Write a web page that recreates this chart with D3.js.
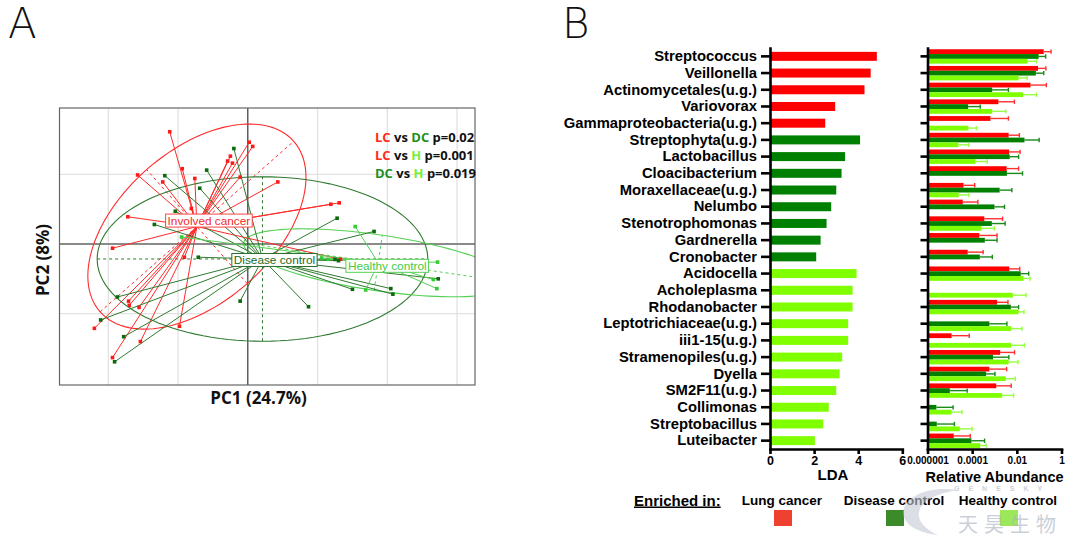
<!DOCTYPE html>
<html>
<head>
<meta charset="utf-8">
<script src="https://cdn.jsdelivr.net/npm/d3@7"></script>
<style>
  body { margin: 0; background: #fff; }
  svg { display: block; }
</style>
</head>
<body>
<svg id="svgBox" width="1080" height="540"></svg>
<script>
// panel A: PCA scores per group
const LC_POINTS = [
  [-1.12, 1.61], [0.02, 1.46], [0.07, 1.40], [-0.25, 1.26], [-0.29, 1.19],
  [-0.22, 1.16], [-1.58, 0.99], [-0.94, 1.08], [-1.22, 0.89], [-0.76, 0.94],
  [-0.11, 0.96], [0.43, 0.89], [-0.81, 0.51], [1.19, 0.57], [1.31, 0.59],
  [-1.72, 0.39], [-1.94, -0.06], [-0.91, -0.19], [-1.71, -0.82], [-1.70, -0.88],
  [-1.56, -0.91], [-2.20, -1.21], [-0.98, -1.18], [-1.54, -1.40], [-1.94, -1.63],
  [1.33, -0.22],
]
const DC_POINTS = [
  [-0.20, 1.37], [-0.59, 1.06], [-1.19, 0.98], [-0.69, 0.80], [-1.04, 0.47],
  [-1.34, 0.28], [-0.71, -0.19], [1.28, 0.37], [1.81, 0.18], [1.30, -0.24],
  [2.73, -0.50], [1.50, -0.65], [2.05, -0.64], [2.08, -0.72], [-0.11, -0.82],
  [0.87, -0.90], [-1.87, -0.76], [-2.11, -1.09], [-1.78, -1.33], [-1.91, -1.69],
  [1.25, -0.22],
]
const HC_POINTS = [
  [1.54, 0.25], [2.72, -0.26], [2.66, -0.51], [2.71, -0.64], [1.69, -0.66],
  [-0.95, 0.10], [1.06, -0.20], [1.15, -0.22],
]
const GROUP_NAMES = ["Involved cancer", "Disease control", "Healthy control"]
const GROUP_CENTROIDS = [[-0.73, 0.25], [0.21, -0.215], [1.87, -0.27]]
// [semi-major, semi-minor, angle in degrees]
const GROUP_ELLIPSES = [[1.85, 1.09, 41.4], [2.37, 1.18, 0], [1.95, 0.40, -8.4]]
const X_GRID = [-2, -1, 0, 1, 2, 3]
const Y_GRID = [-1, 0, 1]
const PAIR_A = ["LC", "LC", "DC"]
const PAIR_B = ["DC", "H", "H"]
const PAIR_P = ["0.02", "0.001", "0.019"]

// panel B: LEfSe
const TAXA = [
  "Streptococcus", "Veillonella", "Actinomycetales(u.g.)", "Variovorax",
  "Gammaproteobacteria(u.g.)", "Streptophyta(u.g.)", "Lactobacillus",
  "Cloacibacterium", "Moraxellaceae(u.g.)", "Nelumbo", "Stenotrophomonas",
  "Gardnerella", "Cronobacter", "Acidocella", "Acholeplasma", "Rhodanobacter",
  "Leptotrichiaceae(u.g.)", "iii1-15(u.g.)", "Stramenopiles(u.g.)", "Dyella",
  "SM2F11(u.g.)", "Collimonas", "Streptobacillus", "Luteibacter",
]
const LDA = [
  4.80, 4.52, 4.24, 2.91, 2.46, 4.04, 3.36, 3.20, 2.96, 2.73, 2.52, 2.25,
  2.05, 3.88, 3.70, 3.70, 3.50, 3.50, 3.23, 3.11, 2.96, 2.62, 2.37, 1.99,
]
const ENRICHED = [
  "LC", "LC", "LC", "LC", "LC",
  "DC", "DC", "DC", "DC", "DC", "DC", "DC", "DC",
  "HC", "HC", "HC", "HC", "HC", "HC", "HC", "HC", "HC", "HC", "HC",
]
const LC_MEAN = [
  0.16, 0.089, 0.041, 0.0015, 0.00066, 0.0043, 0.0045, 0.0035, 4.1e-5, 3.8e-5,
  0.00035, 0.00021, 6.3e-5, 0.0046, null, 0.0013, null, 1.2e-5, 0.0018, 0.00059,
  0.0012, null, null, 1.5e-5,
]
const LC_UPPER = [
  0.34, 0.2, 0.21, 0.0078, 0.0042, 0.013, 0.014, 0.012, 0.00013, 0.00018,
  0.0023, 0.0013, 0.00031, 0.0135, null, 0.004, null, 7.4e-5, 0.0079, 0.0035,
  0.0056, null, null, 8.2e-5,
]
const DC_MEAN = [
  0.095, 0.071, 0.00079, 6.6e-5, null, 0.022, 0.0048, 0.0036, 0.0017, 0.001,
  0.00076, 0.00037, 0.00022, 0.015, null, 0.0054, 0.00059, null, 0.00086, 0.00042,
  1.0e-5, 2.5e-6, 2.6e-6, 9.3e-5,
]
const DC_UPPER = [
  0.195, 0.16, 0.0042, 0.00023, null, 0.1, 0.012, 0.018, 0.006, 0.0028,
  0.003, 0.0013, 0.0008, 0.034, null, 0.012, 0.0036, null, 0.0044, 0.00105,
  6e-5, 1.4e-5, 1.6e-5, 0.00036,
]
const HC_MEAN = [
  0.0295, 0.012, 0.019, 0.00079, 6.8e-5, 2.4e-5, 0.00014, null, 2.5e-5, null,
  0.00026, null, null, 0.02, 0.0066, 0.012, 0.0056, 0.0056, 0.0043, 0.0032,
  0.0022, 1.2e-5, 2.8e-5, 0.00023,
]
const HC_UPPER = [
  0.076, 0.029, 0.076, 0.0032, 0.000155, 7.1e-5, 0.00047, null, 7.1e-5, null,
  0.00098, null, null, 0.039, 0.026, 0.021, 0.017, 0.022, 0.0114, 0.0085,
  0.0071, 3.5e-5, 0.0001, 0.00042,
]
const LDA_TICKS = [0, 2, 4, 6]
const RA_TICKS = [1e-6, 1e-4, 1e-2, 1]
const RA_TICK_LABELS = ["0.000001", "0.0001", "0.01", "1"]
const LEGEND_LABELS = ["Lung cancer", "Disease control", "Healthy control"]

const svg = d3.select("#svgBox")
const BOLD = "'Liberation Sans', Arial, sans-serif"
const OPEN = "'Open Sans', 'Liberation Sans', sans-serif"

// group styles: index 0 = LC, 1 = DC, 2 = HC
const POINT_COLORS = ["#ff1a1a", "#0b6a0b", "#33cc33"]
const LINE_COLORS = ["#ff2a2a", "#2f7a2f", "#55d055"]
const LABEL_NUDGE = [[12, -6], [12, 1], [9, 3]]
const TEXT_COLORS = { LC: "#ff2a1a", DC: "#1f8f1f", H: "#77ee33" }

// ---------- panel A ----------
const x = d3.scaleLinear().domain([-2.7, 3.257]).range([59.5, 475])
const y = d3.scaleLinear().domain([-2.023, 1.951]).range([385, 108])

svg.append("clipPath")
  .attr("id", "pcaClip")
  .append("rect")
  .attr("x", x.range()[0])
  .attr("y", y.range()[1])
  .attr("width", x.range()[1] - x.range()[0])
  .attr("height", y.range()[0] - y.range()[1])

const pca = svg.append("g").attr("clip-path", "url(#pcaClip)")

// grid
X_GRID.forEach((g) => {
  pca.append("line")
    .attr("x1", x(g)).attr("x2", x(g))
    .attr("y1", y.range()[0]).attr("y2", y.range()[1])
    .attr("stroke", "#e2e2e2").attr("stroke-width", 1.3)
})
Y_GRID.forEach((g) => {
  pca.append("line")
    .attr("y1", y(g)).attr("y2", y(g))
    .attr("x1", x.range()[0]).attr("x2", x.range()[1])
    .attr("stroke", "#e2e2e2").attr("stroke-width", 1.3)
})
pca.append("line")
  .attr("y1", y(0)).attr("y2", y(0))
  .attr("x1", x.range()[0]).attr("x2", x.range()[1])
  .attr("stroke", "#8a8a8a").attr("stroke-width", 2)
pca.append("line")
  .attr("x1", x(0)).attr("x2", x(0))
  .attr("y1", y.range()[0]).attr("y2", y.range()[1])
  .attr("stroke", "#222").attr("stroke-width", 1)

const ellipsePath = ([cx, cy], [a, b, deg]) => {
  const t = (deg * Math.PI) / 180
  const pts = d3.range(0, 361, 3).map((k) => {
    const s = (k * Math.PI) / 180
    const ex = a * Math.cos(s)
    const ey = b * Math.sin(s)
    return [
      x(cx + ex * Math.cos(t) - ey * Math.sin(t)),
      y(cy + ex * Math.sin(t) + ey * Math.cos(t)),
    ]
  })
  return d3.line()(pts)
}

const ellipseAxes = ([cx, cy], [a, b, deg]) => {
  const t = (deg * Math.PI) / 180
  const c = Math.cos(t)
  const s = Math.sin(t)
  return [
    [[cx - a * c, cy - a * s], [cx + a * c, cy + a * s]],
    [[cx + b * s, cy - b * c], [cx - b * s, cy + b * c]],
  ]
}

const groups = [LC_POINTS, DC_POINTS, HC_POINTS]

// ellipses and their dashed axes
groups.forEach((_, i) => {
  pca.append("path")
    .attr("d", ellipsePath(GROUP_CENTROIDS[i], GROUP_ELLIPSES[i]))
    .attr("fill", "none")
    .attr("stroke", LINE_COLORS[i])
    .attr("stroke-width", 1.1)
  ellipseAxes(GROUP_CENTROIDS[i], GROUP_ELLIPSES[i]).forEach((seg) => {
    pca.append("path")
      .attr("d", d3.line()(seg.map(([u, v]) => [x(u), y(v)])))
      .attr("stroke", LINE_COLORS[i])
      .attr("stroke-width", 1)
      .attr("stroke-dasharray", "3,3")
  })
})

// star lines
groups.forEach((pts, i) => {
  const [cx, cy] = GROUP_CENTROIDS[i]
  pts.forEach(([px, py]) => {
    pca.append("line")
      .attr("x1", x(cx)).attr("y1", y(cy))
      .attr("x2", x(px)).attr("y2", y(py))
      .attr("stroke", LINE_COLORS[i])
      .attr("stroke-width", 1)
  })
})

// points
groups.forEach((pts, i) => {
  pca.selectAll(null)
    .data(pts)
    .enter()
    .append("rect")
    .attr("x", (d) => x(d[0]) - 1.8)
    .attr("y", (d) => y(d[1]) - 1.8)
    .attr("width", 3.6)
    .attr("height", 3.6)
    .attr("fill", POINT_COLORS[i])
})

// group labels
GROUP_NAMES.forEach((name, i) => {
  const [cx, cy] = GROUP_CENTROIDS[i]
  const lx = x(cx) + LABEL_NUDGE[i][0]
  const ly = y(cy) + LABEL_NUDGE[i][1]
  const g = pca.append("g")
  const rect = g.append("rect")
  const txt = g.append("text")
    .attr("x", lx)
    .attr("y", ly + 4.3)
    .attr("text-anchor", "middle")
    .attr("font-family", BOLD)
    .attr("font-size", "11.8px")
    .attr("fill", i === 0 ? "#f42a2a" : i === 1 ? "#1c6b1c" : "#44cc44")
    .text(name)
  const w = txt.node().getComputedTextLength() + 4
  rect.attr("x", lx - w / 2).attr("y", ly - 6.5)
    .attr("width", w).attr("height", 13)
    .attr("fill", "#fff")
    .attr("stroke", i === 0 ? "#f44" : i === 1 ? "#2a6e2a" : "#55d055")
    .attr("stroke-width", 1)
})

// frame
svg.append("rect")
  .attr("x", x.range()[0]).attr("y", y.range()[1])
  .attr("width", x.range()[1] - x.range()[0])
  .attr("height", y.range()[0] - y.range()[1])
  .attr("fill", "none")
  .attr("stroke", "#666")
  .attr("stroke-width", 1.2)

// pairwise test text
PAIR_P.forEach((p, i) => {
  const t = svg.append("text")
    .attr("x", 375)
    .attr("y", 141.5 + i * 18)
    .attr("font-family", OPEN)
    .attr("font-weight", "bold")
    .attr("font-size", "13px")
    .attr("fill", "#111")
  t.append("tspan").attr("fill", TEXT_COLORS[PAIR_A[i]]).text(PAIR_A[i])
  t.append("tspan").text(" vs ")
  t.append("tspan").attr("fill", TEXT_COLORS[PAIR_B[i]]).text(PAIR_B[i])
  t.append("tspan").text(" p=" + p)
})

// axis titles
svg.append("text")
  .attr("x", 258.5).attr("y", 404)
  .attr("text-anchor", "middle")
  .attr("font-family", OPEN).attr("font-weight", "bold")
  .attr("font-size", "17px").attr("fill", "#111")
  .text("PC1 (24.7%)")
svg.append("text")
  .attr("transform", "translate(49, 260) rotate(-90)")
  .attr("text-anchor", "middle")
  .attr("font-family", OPEN).attr("font-weight", "bold")
  .attr("font-size", "17px").attr("fill", "#111")
  .text("PC2 (8%)")

// panel letters
const panelLetter = (letter, px) => {
  svg.append("text")
    .attr("x", px).attr("y", 38)
    .attr("font-family", "'DejaVu Sans', 'Liberation Sans', sans-serif")
    .attr("font-weight", 200)
    .attr("font-size", "42px")
    .attr("fill", "#111")
    .text(letter)
}
panelLetter("A", 8)
panelLetter("B", 562)

// ---------- panel B ----------
const BAR_COLORS = { LC: "#ff0000", DC: "#008000", HC: "#80ff00" }
const ERR_COLORS = { LC: "#ff3030", DC: "#1a8a1a", HC: "#96ff40" }

const rows = d3.scaleBand().domain(TAXA).range([48, 449])
const lda = d3.scaleLinear().domain([0, 6]).range([770, 902.3])
const ra = d3.scaleLog().domain([1e-6, 1]).range([927.5, 1061.5])
const sub = d3.scaleBand().domain(["LC", "DC", "HC"]).range([-7.1, 7.3])
const rowMid = (t) => rows(t) + rows.bandwidth() / 2

// LDA bars
svg.selectAll(null)
  .data(TAXA)
  .enter()
  .append("rect")
  .attr("x", lda(0) + 1)
  .attr("y", (d) => rowMid(d) - 4.5)
  .attr("width", (d, i) => lda(LDA[i]) - lda(0))
  .attr("height", 9)
  .attr("fill", (d, i) => BAR_COLORS[ENRICHED[i]])

// relative abundance bars with error bars
const RA_SERIES = [
  ["LC", LC_MEAN, LC_UPPER],
  ["DC", DC_MEAN, DC_UPPER],
  ["HC", HC_MEAN, HC_UPPER],
]
RA_SERIES.forEach(([key, means, uppers]) => {
  TAXA.forEach((taxon, i) => {
    if (means[i] == null) return
    const top = rowMid(taxon) + sub(key)
    const cy = top + sub.bandwidth() / 2
    svg.append("line")
      .attr("x1", ra(means[i])).attr("x2", ra(uppers[i]))
      .attr("y1", cy).attr("y2", cy)
      .attr("stroke", ERR_COLORS[key]).attr("stroke-width", 1.4)
    svg.append("line")
      .attr("x1", ra(uppers[i])).attr("x2", ra(uppers[i]))
      .attr("y1", cy - 2.2).attr("y2", cy + 2.2)
      .attr("stroke", ERR_COLORS[key]).attr("stroke-width", 1.4)
    svg.append("rect")
      .attr("x", ra.range()[0])
      .attr("y", top)
      .attr("width", ra(means[i]) - ra.range()[0])
      .attr("height", sub.bandwidth())
      .attr("fill", BAR_COLORS[key])
  })
})

const styleAxis = (g, fontSize) => {
  g.select(".domain").attr("stroke", "#000").attr("stroke-width", 2.6)
    .attr("stroke-linecap", "square")
  g.selectAll(".tick line").attr("stroke", "#000").attr("stroke-width", 2.6)
  g.selectAll(".tick text")
    .attr("font-family", BOLD)
    .attr("font-weight", "bold")
    .attr("font-size", fontSize)
    .attr("fill", "#000")
}

// LDA axes
svg.append("g")
  .attr("transform", `translate(${lda(0)},0)`)
  .call(d3.axisLeft(rows).tickSize(9).tickSizeOuter(0).tickPadding(4))
  .call((g) => styleAxis(g, "14.8px"))
svg.append("g")
  .attr("transform", "translate(0,449)")
  .call(
    d3.axisBottom(lda)
      .tickValues(LDA_TICKS)
      .tickFormat(d3.format("d"))
      .tickSize(5)
      .tickSizeOuter(0)
      .tickPadding(2),
  )
  .call((g) => styleAxis(g, "12.5px"))

// relative abundance axes
svg.append("g")
  .attr("transform", `translate(${ra.range()[0]},0)`)
  .call(d3.axisLeft(rows).tickSize(7).tickSizeOuter(0).tickFormat(""))
  .call((g) => styleAxis(g, "10px"))
svg.append("g")
  .attr("transform", "translate(0,449)")
  .call(
    d3.axisBottom(ra)
      .tickValues(RA_TICKS)
      .tickFormat((d, i) => RA_TICK_LABELS[i])
      .tickSize(5)
      .tickSizeOuter(0)
      .tickPadding(3),
  )
  .call((g) => styleAxis(g, "10px"))

svg.append("text")
  .attr("x", 833).attr("y", 480)
  .attr("text-anchor", "middle")
  .attr("font-family", BOLD).attr("font-weight", "bold")
  .attr("font-size", "15px")
  .text("LDA")
svg.append("text")
  .attr("x", 994.5).attr("y", 481.5)
  .attr("text-anchor", "middle")
  .attr("font-family", BOLD).attr("font-weight", "bold")
  .attr("font-size", "14.5px")
  .text("Relative Abundance")

// legend
svg.append("text")
  .attr("x", 634).attr("y", 505.5)
  .attr("font-family", BOLD).attr("font-weight", "bold")
  .attr("font-size", "15px")
  .attr("text-decoration", "underline")
  .text("Enriched in:")

const LEGEND_X = [782, 894, 1008]
const LEGEND_SWATCH = ["#ef4130", "#3b8b2b", "#9be85a"]
LEGEND_LABELS.forEach((label, i) => {
  svg.append("text")
    .attr("x", LEGEND_X[i]).attr("y", 505)
    .attr("text-anchor", "middle")
    .attr("font-family", BOLD).attr("font-weight", "bold")
    .attr("font-size", "13.5px")
    .text(label)
  svg.append("rect")
    .attr("x", LEGEND_X[i] - 8).attr("y", 510)
    .attr("width", 18).attr("height", 16)
    .attr("fill", LEGEND_SWATCH[i])
})

// watermark
const wm = svg.append("g").attr("opacity", 0.6).attr("pointer-events", "none")
wm.append("path")
  .attr("d", "M 958 490 C 900 482, 880 528, 938 535 C 908 522, 912 497, 958 490 Z")
  .attr("fill", "#c4cad4")
wm.append("text")
  .attr("x", 954).attr("y", 491)
  .attr("font-family", BOLD).attr("font-weight", "bold")
  .attr("font-size", "7px")
  .attr("letter-spacing", "9px")
  .attr("fill", "#aab2bf")
  .text("GENESKY")
wm.append("text")
  .attr("x", 958).attr("y", 532)
  .attr("font-family", "'Noto Sans CJK SC', sans-serif")
  .attr("font-size", "20px")
  .attr("letter-spacing", "6px")
  .attr("fill", "#aab2bf")
  .text("天昊生物")
</script>
</body>
</html>
